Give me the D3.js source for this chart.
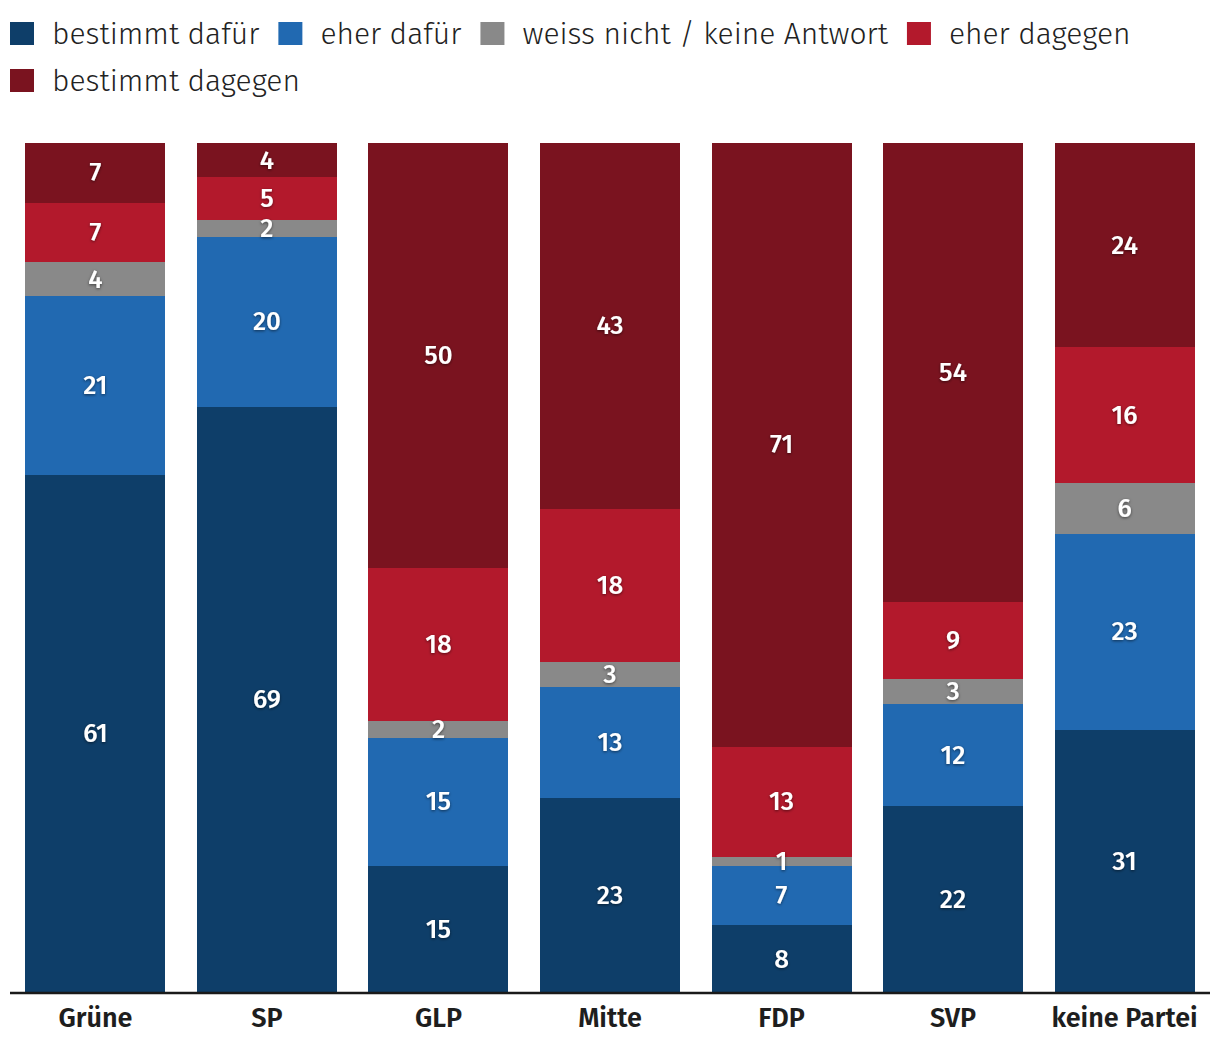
<!DOCTYPE html>
<html><head><meta charset="utf-8">
<script src="https://cdn.jsdelivr.net/npm/d3@7"></script>
<style>
html,body{margin:0;padding:0;background:#fff;}
svg{display:block;}
</style></head>
<body>
<script>
const parties = ["Grüne","SP","GLP","Mitte","FDP","SVP","keine Partei"];
const seriesNames = ["bestimmt dafür","eher dafür","weiss nicht / keine Antwort","eher dagegen","bestimmt dagegen"];
const seriesColors = ["#0e3e69","#2169b1","#898989","#b3192c","#7a131f"];
const bestimmtDafuer  = [61,69,15,23,8,22,31];
const eherDafuer      = [21,20,15,13,7,12,23];
const weissNicht      = [4,2,2,3,1,3,6];
const eherDagegen     = [7,5,18,18,13,9,16];
const bestimmtDagegen = [7,4,50,43,71,54,24];

const W=1220,H=1056;
const svg=d3.select("body").append("svg").attr("width",W).attr("height",H);
const FONT="'Fira Sans','Open Sans','Noto Sans',sans-serif";

const rows = parties.map((p,i)=>({party:p,
  s0:bestimmtDafuer[i],s1:eherDafuer[i],s2:weissNicht[i],s3:eherDagegen[i],s4:bestimmtDagegen[i]}));
const keys=["s0","s1","s2","s3","s4"];
const stacked=d3.stack().keys(keys)(rows);

const x=d3.scaleBand().domain(parties).range([10,1210]).paddingInner(0.1837).paddingOuter(0.09);
const y=d3.scaleLinear().domain([0,100]).range([993,143]);

const defs=svg.append("defs");
const f=defs.append("filter").attr("id","sh").attr("x","-50%").attr("y","-50%").attr("width","200%").attr("height","200%");
f.append("feDropShadow").attr("dx",0).attr("dy",1).attr("stdDeviation",1.5).attr("flood-color","#000").attr("flood-opacity",0.55);

const g=svg.append("g");
stacked.forEach((layer,li)=>{
  g.selectAll(null).data(layer).enter().append("rect")
    .attr("x",d=>x(d.data.party)).attr("width",x.bandwidth())
    .attr("y",d=>y(d[1])).attr("height",d=>y(d[0])-y(d[1]))
    .attr("fill",seriesColors[li]).attr("shape-rendering","crispEdges");
});
stacked.forEach((layer,li)=>{
  g.selectAll(null).data(layer).enter().append("text")
    .attr("x",d=>x(d.data.party)+x.bandwidth()/2)
    .attr("y",d=>(y(d[0])+y(d[1]))/2)
    .attr("dy","0.33em")
    .attr("text-anchor","middle")
    .attr("fill","#fff").attr("font-family",FONT).attr("font-weight",500).attr("font-size",26)
    .attr("filter","url(#sh)")
    .text(d=>d[1]-d[0]);
});

const xAxis=d3.axisBottom(x).tickSize(0).tickPadding(15);
const ax=svg.append("g").attr("transform","translate(0,993)").call(xAxis);
ax.select(".domain").attr("stroke","#1a1a1a").attr("stroke-width",2.5).attr("d","M10,0H1210");
ax.selectAll("text").attr("font-family",FONT).attr("font-weight",600).attr("font-size",27).attr("fill","#1e1e1e");

// legend
const lg=svg.append("g");
let lx=10, ly=22;
seriesNames.forEach((n,i)=>{
  const it=lg.append("g");
  it.append("rect").attr("width",24).attr("height",23).attr("fill",seriesColors[i]);
  const t=it.append("text").attr("x",42).attr("y",22).attr("font-family",FONT).attr("font-weight",300)
    .attr("font-size",30).attr("fill","#222").text(n);
  const w=42+t.node().getComputedTextLength();
  if(lx+w>1212){lx=10;ly+=47;}
  it.attr("transform",`translate(${lx},${ly})`);
  lx+=w+19;
});
</script>
</body></html>
